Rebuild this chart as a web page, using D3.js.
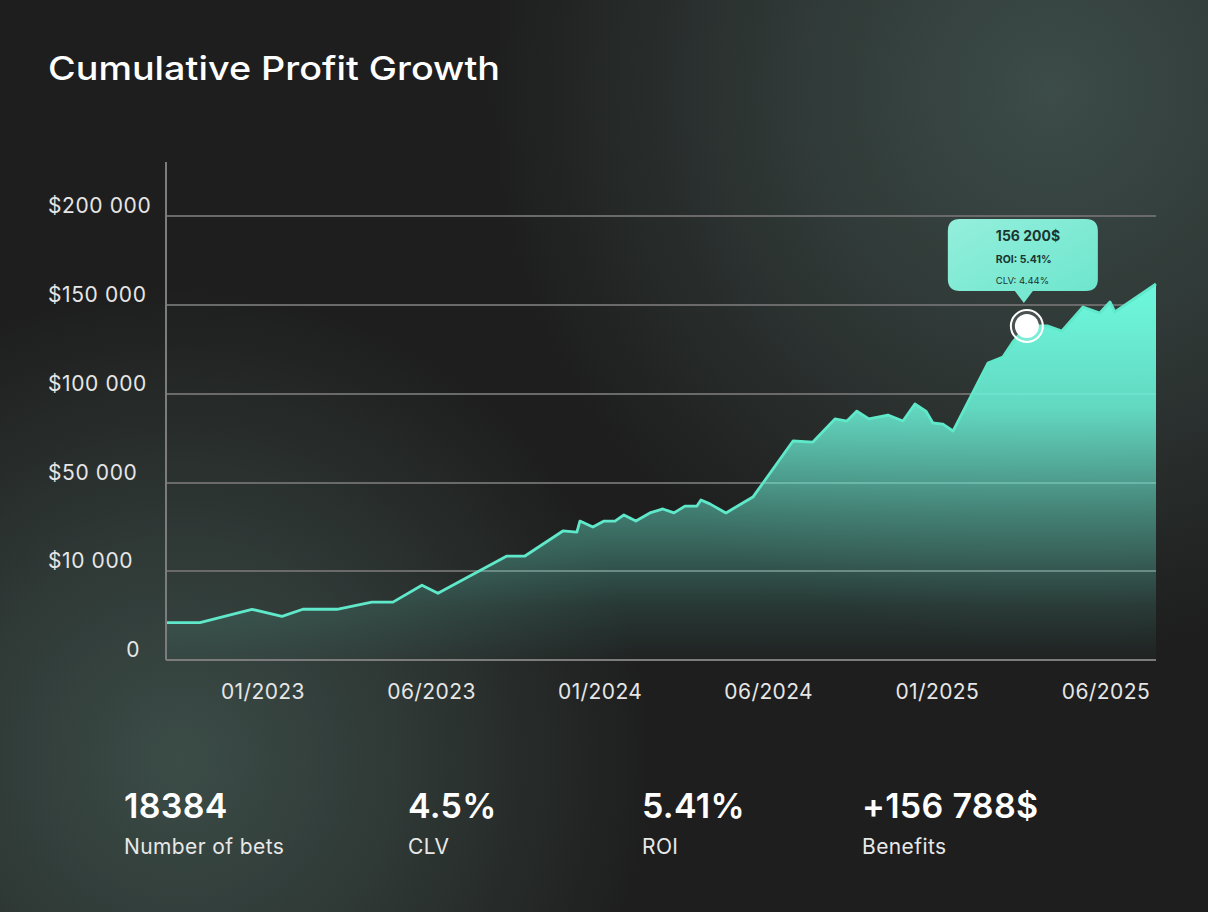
<!DOCTYPE html>
<html>
<head>
<meta charset="utf-8">
<script src="https://cdn.jsdelivr.net/npm/d3@7"></script>
<style>
  html, body { margin: 0; padding: 0; background: #1e1e1e; }
  svg { display: block; }
</style>
</head>
<body>
<div id="chart"></div>
<script>
// chart values
var period = [-0.575, -0.374, -0.065, 0.113, 0.237, 0.439, 0.646, 0.771, 0.943, 1.038,
  1.447, 1.554, 1.779, 1.862, 1.880, 1.957, 2.023, 2.088, 2.141, 2.212,
  2.295, 2.372, 2.438, 2.503, 2.574, 2.598, 2.651, 2.746, 2.906, 3.144,
  3.262, 3.393, 3.464, 3.523, 3.594, 3.707, 3.796, 3.867, 3.932, 3.974,
  4.033, 4.093, 4.300, 4.389, 4.448, 4.531, 4.656, 4.739, 4.864, 4.964,
  5.024, 5.053, 5.297];
var profit = [4200, 4200, 5700, 4900, 5700, 5700, 6500, 6500, 8400, 7500,
  16800, 16800, 28200, 27700, 32700, 30000, 32700, 32700, 35500, 32700,
  36400, 38200, 36400, 39500, 39500, 42300, 40500, 36400, 43600, 73600,
  73000, 86000, 84800, 90400, 86000, 88200, 84800, 94400, 90400, 83700,
  83100, 79200, 117400, 120800, 129200, 138200, 138200, 135400, 148900, 145500,
  151700, 146100, 161800];

var yTicks = [0, 10000, 50000, 100000, 150000, 200000];
var yTickLabels = ["0", "$10 000", "$50 000", "$100 000", "$150 000", "$200 000"];
var xTicks = [0, 1, 2, 3, 4, 5];
var xTickLabels = ["01/2023", "06/2023", "01/2024", "06/2024", "01/2025", "06/2025"];

var highlightIndex = 45;
var tooltipLines = ["156 200$", "ROI: 5.41%", "CLV:  4.44%"];

var statValues = ["18384", "4.5%", "5.41%", "+156 788$"];
var statLabels = ["Number of bets", "CLV", "ROI", "Benefits"];

var W = 1208, H = 912;
var margin = {top: 162, right: 52, bottom: 252, left: 166},
    width = W - margin.left - margin.right,
    height = H - margin.top - margin.bottom;

var svg = d3.select("#chart")
    .append("svg")
    .attr("width", W)
    .attr("height", H);

var defs = svg.append("defs");

// background glows
function glow(id, cx, cy, r, col) {
    var rg = defs.append("radialGradient").attr("id", id)
        .attr("gradientUnits", "userSpaceOnUse")
        .attr("cx", cx).attr("cy", cy).attr("r", r);
    rg.append("stop").attr("offset", 0).attr("stop-color", col).attr("stop-opacity", 1);
    rg.append("stop").attr("offset", 0.45).attr("stop-color", col).attr("stop-opacity", 0.6);
    rg.append("stop").attr("offset", 1).attr("stop-color", col).attr("stop-opacity", 0);
}
glow("glowTR", 1050, 90, 560, "#3c4c48");
glow("glowBL", 180, 760, 470, "#3b4c47");

svg.append("rect").attr("width", W).attr("height", H).attr("fill", "#1e1e1e");
svg.append("rect").attr("width", W).attr("height", H).attr("fill", "url(#glowTR)");
svg.append("rect").attr("width", W).attr("height", H).attr("fill", "url(#glowBL)");

// area fill
var ag = defs.append("linearGradient").attr("id", "areaFill")
    .attr("gradientUnits", "userSpaceOnUse")
    .attr("x1", 0).attr("y1", 300).attr("x2", 0).attr("y2", 660);
[[0, 1], [0.3, 0.85], [0.6, 0.42], [0.85, 0.12], [1, 0.02]].forEach(function (s) {
    ag.append("stop").attr("offset", s[0]).attr("stop-color", "#6cf5da").attr("stop-opacity", s[1]);
});

var tg = defs.append("linearGradient").attr("id", "tipFill")
    .attr("x1", 0).attr("y1", 0).attr("x2", 1).attr("y2", 1);
tg.append("stop").attr("offset", 0).attr("stop-color", "#94efdc");
tg.append("stop").attr("offset", 1).attr("stop-color", "#6be5cc");

// title
svg.append("text")
    .attr("x", 48).attr("y", 80)
    .attr("fill", "#ffffff")
    .attr("textLength", 452)
    .attr("lengthAdjust", "spacingAndGlyphs")
    .style("font-family", "Inter, sans-serif")
    .style("font-size", "33px")
    .style("font-weight", 500)
    .text("Cumulative Profit Growth");

var g = svg.append("g")
    .attr("transform", "translate(" + margin.left + "," + margin.top + ")");

var x = d3.scaleLinear()
    .domain([period[0], period[period.length - 1]])
    .range([0, width]);

// value axis is not linear: every tick gets the same spacing
var y = d3.scaleLinear()
    .domain(yTicks)
    .range([498, 409, 321, 232, 143, 54]);

var data = period.map(function (p, i) { return {p: p, v: profit[i]}; });

// grid lines
g.selectAll(".grid")
    .data(yTicks.slice(1))
    .enter()
    .append("line")
    .attr("x1", 0).attr("x2", width)
    .attr("y1", function (d) { return y(d); })
    .attr("y2", function (d) { return y(d); })
    .attr("stroke", "#6a6a6a")
    .attr("stroke-width", 2);

// area + line
g.append("path")
    .datum(data)
    .attr("fill", "url(#areaFill)")
    .attr("transform", "translate(" + (-margin.left) + "," + (-margin.top) + ")")
    .attr("d", d3.area()
        .x(function (d) { return x(d.p) + margin.left; })
        .y0(y(0) + margin.top)
        .y1(function (d) { return y(d.v) + margin.top; }));

g.append("path")
    .datum(data)
    .attr("fill", "none")
    .attr("stroke", "#5fe8c9")
    .attr("stroke-width", 2.8)
    .attr("stroke-linejoin", "round")
    .attr("d", d3.line()
        .x(function (d) { return x(d.p); })
        .y(function (d) { return y(d.v); }));

// axes lines
g.append("line")
    .attr("x1", 0).attr("x2", 0)
    .attr("y1", 0).attr("y2", y(0))
    .attr("stroke", "#7c7c7c").attr("stroke-width", 2);
g.append("line")
    .attr("x1", 0).attr("x2", width)
    .attr("y1", y(0)).attr("y2", y(0))
    .attr("stroke", "#7c7c7c").attr("stroke-width", 2);

// y labels
g.selectAll(".ylab")
    .data(yTicks)
    .enter()
    .append("text")
    .attr("x", function (d) { return d === 0 ? -26 : 48 - margin.left; })
    .attr("y", function (d) { return y(d) - 3; })
    .attr("text-anchor", function (d) { return d === 0 ? "end" : "start"; })
    .attr("fill", "#e6e6e6")
    .style("font-family", "Inter, sans-serif")
    .style("font-size", "21px")
    .style("letter-spacing", "0.6px")
    .text(function (d, i) { return yTickLabels[i]; });

// x labels
g.selectAll(".xlab")
    .data(xTicks)
    .enter()
    .append("text")
    .attr("x", function (d) { return x(d); })
    .attr("y", y(0) + 39)
    .attr("text-anchor", "middle")
    .attr("fill", "#e6e6e6")
    .style("font-family", "Inter, sans-serif")
    .style("font-size", "21px")
    .style("letter-spacing", "0.4px")
    .text(function (d, i) { return xTickLabels[i]; });

// highlighted point + tooltip
var hp = data[highlightIndex];
var hx = x(hp.p), hy = y(hp.v);

var tip = g.append("g")
    .attr("transform", "translate(" + (hx - 79) + "," + (hy - 107) + ")");
tip.append("path")
    .attr("d", "M12,0 H138 Q150,0 150,12 V60 Q150,72 138,72 H85 L76,84 L67,72 H12 Q0,72 0,60 V12 Q0,0 12,0 Z")
    .attr("fill", "url(#tipFill)");
var tipSizes = [14, 10.5, 9.5], tipWeights = [700, 700, 400], tipY = [22, 44, 65];
tip.selectAll("text")
    .data(tooltipLines)
    .enter()
    .append("text")
    .attr("x", 48)
    .attr("y", function (d, i) { return tipY[i]; })
    .attr("fill", "#1b3630")
    .style("font-family", "Inter, sans-serif")
    .style("font-size", function (d, i) { return tipSizes[i] + "px"; })
    .style("font-weight", function (d, i) { return tipWeights[i]; })
    .text(function (d) { return d; });

g.append("circle")
    .attr("cx", hx).attr("cy", hy).attr("r", 16)
    .attr("fill", "rgba(255,255,255,0.12)")
    .attr("stroke", "#ffffff").attr("stroke-width", 2);
g.append("circle")
    .attr("cx", hx).attr("cy", hy).attr("r", 12)
    .attr("fill", "#ffffff");

// stats row
var statX = [124, 408, 642, 862];
var stats = svg.selectAll(".stat")
    .data(statValues)
    .enter()
    .append("g")
    .attr("transform", function (d, i) { return "translate(" + statX[i] + ",0)"; });
stats.append("text")
    .attr("y", 818)
    .attr("fill", "#ffffff")
    .style("font-family", "Inter, sans-serif")
    .style("font-size", "34px")
    .style("font-weight", 600)
    .style("letter-spacing", "0.3px")
    .text(function (d) { return d; });
stats.append("text")
    .attr("y", 854)
    .attr("fill", "#e8e8e8")
    .style("font-family", "Inter, sans-serif")
    .style("font-size", "21px")
    .style("letter-spacing", "0.4px")
    .text(function (d, i) { return statLabels[i]; });
</script>
</body>
</html>
